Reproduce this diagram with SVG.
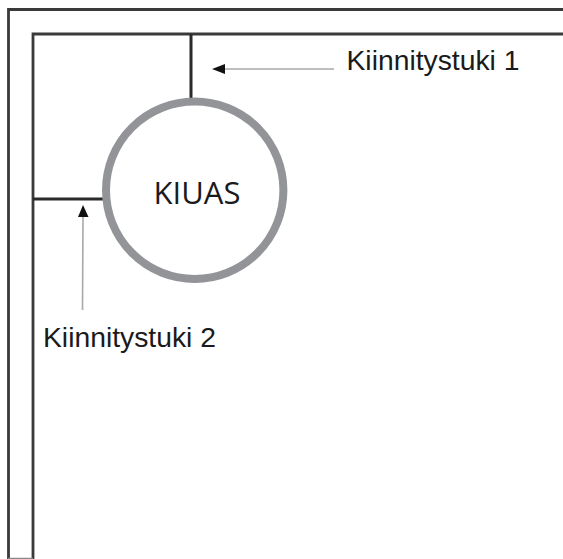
<svg xmlns="http://www.w3.org/2000/svg" width="563" height="559" viewBox="0 0 563 559">
<style>
.wall{fill:none;stroke:#3a3a3c;stroke-width:2.800}
.brace{fill:none;stroke:#2a2a2c;stroke-width:3}
.lead{fill:none;stroke:#a8a8a8;stroke-width:1.600}
.head{fill:#111}
.label{font-family:"Liberation Sans",Arial,sans-serif;font-size:28.300px;fill:#1a1a1a}
.kiuas{font-family:"Open Sans","Noto Sans",sans-serif;font-size:31px;fill:#1a1a1c}
</style>
<rect width="563" height="559" fill="#fff"/>
<g id="walls">
<path class="wall" d="M8.500 559V9.500H563"/>
<path class="wall" d="M33 559V34H563"/>
<path d="M8 558.500H33" fill="none" stroke="#8a8a8a" stroke-width="1.500"/>
</g>
<g id="connectors">
<path class="brace" d="M191 34V98"/>
<path class="brace" d="M33 199H103"/>
<path class="lead" d="M224 69H334"/>
<path class="head" d="M212 69L225 64V74Z"/>
<path class="lead" d="M83 216L82.500 310"/>
<path class="head" d="M83 205L78 217H88.500Z"/>
</g>
<g id="kiuas">
<circle cx="194.700" cy="190.200" r="88.700" fill="#fff" stroke="#929497" stroke-width="8"/>
<text class="kiuas" x="197" y="204" text-anchor="middle">KIUAS</text>
</g>
<g id="label-1"><text class="label" x="346.500" y="70">Kiinnitystuki 1</text></g>
<g id="label-2"><text class="label" x="43" y="347">Kiinnitystuki 2</text></g>
</svg>
